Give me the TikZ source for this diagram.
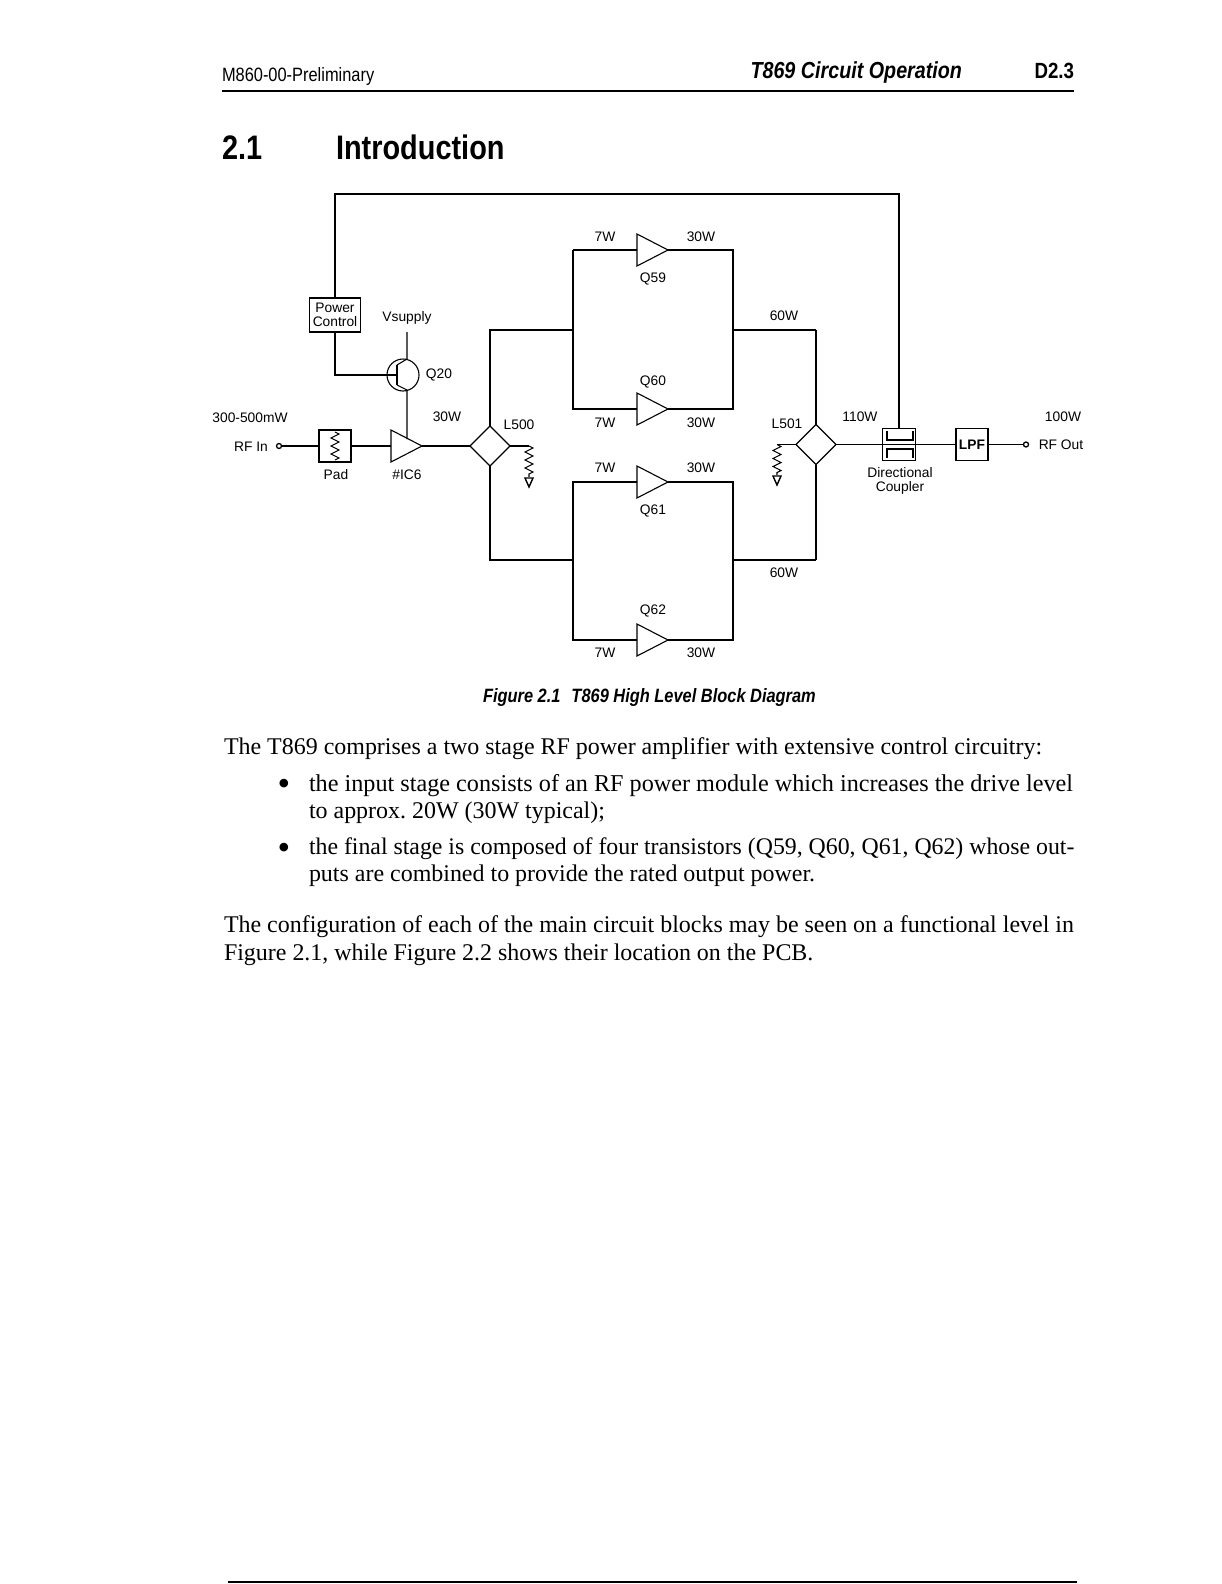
\documentclass[tikz,border=0pt]{standalone}
\usepackage{fontspec}
\usepackage{tikz}
\setmainfont{Liberation Serif}
\setsansfont{Liberation Sans}
\newfontfamily\headfont[FakeStretch=0.85]{Liberation Sans}
\usetikzlibrary{shapes.geometric,decorations.pathmorphing}
\frenchspacing

\begin{document}
\begin{tikzpicture}[x=1pt, y=-1pt, line width=1.1pt, line join=miter,
                    every node/.style={inner sep=0pt, outer sep=0pt},
                    lbl/.style={font=\sffamily\fontsize{13.8}{15}\selectfont, align=center},
                    body/.style={anchor=base west, font=\rmfamily\fontsize{23.95}{26}\selectfont},
                    bul/.style={anchor=base, font=\rmfamily\fontsize{36}{38}\selectfont},
                    box/.style={rectangle, draw, minimum width=32pt, minimum height=32pt},
                    amp/.style={isosceles triangle, isosceles triangle stretches, draw, anchor=apex,
                                minimum height=31pt, minimum width=32pt},
                    combiner/.style={diamond, draw, minimum width=40pt, minimum height=40pt},
                    port/.style={circle, draw, line width=1.3pt, fill=white, minimum size=5pt},
                    gnd/.style={isosceles triangle, isosceles triangle stretches, draw, line width=1.4pt,
                                shape border rotate=270, anchor=apex, minimum height=9pt, minimum width=8pt},
                    heavy/.style={line width=1.8pt},
                    fine/.style={line width=0.8pt},
                    zig/.style={decorate, decoration={zigzag, segment length=8pt, amplitude=4pt}}]
  \useasboundingbox (0,0) rectangle (1221,1584);

  % page header
  \node[anchor=base west, font=\headfont\fontsize{19.3}{21}\selectfont] (docref) at (222,82) {M860-00-Preliminary};
  \node[anchor=base east, font=\headfont\bfseries\itshape\fontsize{23.2}{25}\selectfont] (chapter) at (962,79) {T869 Circuit Operation};
  \node[anchor=base east, font=\headfont\bfseries\fontsize{22}{24}\selectfont] (pageno) at (1074,79) {D2.3};
  \coordinate (ruleL) at (222,91);
  \coordinate (ruleR) at (1074,91);
  \draw (ruleL) -- (ruleR);
  \node[anchor=base west, font=\headfont\bfseries\fontsize{34}{38}\selectfont] (secno) at (222,159) {2.1};
  \node[anchor=base west, font=\headfont\bfseries\fontsize{34}{38}\selectfont] (sectitle) at (336,159) {Introduction};

  % input stage
  \node[port] (rfin) at (279,446) {};
  \node[box] (pad) at (335,446) {};
  \node[amp] (ic6) at (422,446) {};
  \node[combiner] (l500) at (490,446) {};
  \node[box, minimum width=51pt, minimum height=34pt] (power) at (335,315) {};
  \node[lbl] (powertxt) at (335,315) {Power\\[-1.5pt]Control};
  \node[circle, draw, minimum size=32pt] (q20) at (403,375) {};
  \coordinate (q20b) at (397,375);
  \coordinate (q20up) at (397,365);
  \coordinate (q20dn) at (397,385);
  \coordinate (q20c) at (407,359);
  \coordinate (q20e) at (407,390);
  \coordinate (vcc) at (407,332);
  \coordinate (ic6top) at (407,439);
  \coordinate (padtop) at (335,432);
  \coordinate (padbot) at (335,460);

  % output stages
  \node[amp] (q59) at (668,250) {};
  \node[amp] (q60) at (668,409) {};
  \node[amp] (q61) at (668,482) {};
  \node[amp] (q62) at (668,640) {};
  \node[combiner] (l501) at (816,444.5) {};
  \coordinate (inA) at (573,330);
  \coordinate (inB) at (573,560);
  \coordinate (outA) at (733,330);
  \coordinate (outB) at (733,560);

  % coupler and filter
  \node[box, minimum width=33pt] (coupler) at (899,444.5) {};
  \node[box] (lpf) at (972,444.5) {\sffamily\bfseries\fontsize{13.8}{15}\selectfont LPF};
  \node[port] (rfout) at (1026,444.5) {};
  \coordinate (fbL) at (335,194);
  \coordinate (fbR) at (899,194);

  % dumps on the combiners
  \coordinate (dumpA) at (529,446);
  \coordinate (dumpAe) at (529,477);
  \coordinate (dumpB) at (777,444.5);
  \coordinate (dumpBe) at (777,475);
  \node[gnd] (gndA) at (529,487) {};
  \node[gnd] (gndB) at (777,485) {};

  \draw (rfin) -- (pad);
  \draw (pad) -- (ic6.west);
  \draw[heavy] (ic6.east) -- (l500);
  \draw[zig] (padtop) -- (padbot);
  \draw (power.north) -- (fbL) -- (fbR) -- (coupler.north -| fbR);
  \draw (power.south) |- (q20b);
  \draw (vcc) -- (q20c) -- (q20up);
  \draw[heavy] (q20up) -- (q20dn);
  \draw (q20dn) -- (q20e) -- (ic6top);

  \draw (l500.north) |- (inA);
  \draw (l500.south) |- (inB);
  \draw (l500.east) -- (dumpA);
  \draw[zig] (dumpA) -- (dumpAe);
  \draw (l501.west) -- (dumpB);
  \draw[zig] (dumpB) -- (dumpBe);

  \draw[heavy] (q59.west) -- (q59.west -| inA);
  \draw (q59.west -| inA) -- (inA) |- (q60.west);
  \draw (q61.west) -| (inB) |- (q62.west);
  \draw (q59.east) -| (outA) |- (q60.east);
  \draw (q61.east) -| (outB) |- (q62.east);
  \draw (outA) -- (outA -| l501);
  \draw (outB) -- (outB -| l501);
  \draw[heavy] (l501.north) -- (outA -| l501);
  \draw[heavy] (l501.south) -- (outB -| l501);

  \draw (l501.east) -- (coupler.west);
  \draw[fine] (coupler.east) -- (lpf.west);
  \draw[fine] (lpf.east) -- (rfout);
  \draw (coupler.west) -- (coupler.east);
  \draw[line width=1.2pt] (887,431) |- (913,440) -- (913,431);
  \draw[line width=1.2pt] (887,458) |- (913,449) -- (913,458);

  % labels
  \node[lbl] (lblrange) at (250,418) {300-500mW};
  \node[lbl] (lblrfin) at (251,447) {RF In};
  \node[lbl] (lblpad) at (336,475) {Pad};
  \node[lbl] (lblic6) at (407,475) {\#IC6};
  \node[lbl] (lblvcc) at (407,318) {Vsupply};
  \node[lbl] (lblq20) at (439,375) {Q20};
  \node[lbl] (lbldrive) at (447,417) {30W};
  \node[lbl] (lbll500) at (519,425) {L500};
  \node[lbl] (lbla1) at (605,237) {7W};
  \node[lbl] (lbla2) at (701,237) {30W};
  \node[lbl] (lblq59) at (653,279) {Q59};
  \node[lbl] (lblq60) at (653,382) {Q60};
  \node[lbl] (lbla3) at (605,423) {7W};
  \node[lbl] (lbla4) at (701,423) {30W};
  \node[lbl] (lblb1) at (605,468) {7W};
  \node[lbl] (lblb2) at (701,468) {30W};
  \node[lbl] (lblq61) at (653,511) {Q61};
  \node[lbl] (lblq62) at (653,611) {Q62};
  \node[lbl] (lblb3) at (605,653) {7W};
  \node[lbl] (lblb4) at (701,653) {30W};
  \node[lbl] (lblupper) at (784,316) {60W};
  \node[lbl] (lbllower) at (784,573) {60W};
  \node[lbl] (lbll501) at (787,424) {L501};
  \node[lbl] (lblsum) at (860,417) {110W};
  \node[lbl] (lblcoupler) at (900,481) {Directional\\[-1pt]Coupler};
  \node[lbl] (lblout) at (1063,417) {100W};
  \node[lbl] (lblrfout) at (1061,445) {RF Out};

  % caption and text
  \node[anchor=base west, font=\headfont\bfseries\itshape\fontsize{19.3}{21}\selectfont] (caption) at (483,702)
    {Figure 2.1\hspace{11pt}T869 High Level Block Diagram};
  \node[body] (para1) at (224,754) {The T869 comprises a two stage RF power amplifier with extensive control circuitry:};
  \node[bul] (bul1) at (284,795) {•};
  \node[body, font=\rmfamily\fontsize{24.2}{26}\selectfont] (item1a) at (309,791) {the input stage consists of an RF power module which increases the drive level};
  \node[body] (item1b) at (309,818) {to approx. 20W (30W typical);};
  \node[bul] (bul2) at (284,859) {•};
  \node[body, font=\rmfamily\fontsize{23.8}{26}\selectfont] (item2a) at (309,854) {the final stage is composed of four transistors (Q59, Q60, Q61, Q62) whose out-};
  \node[body] (item2b) at (309,881) {puts are combined to provide the rated output power.};
  \node[body] (para2a) at (224,932) {The configuration of each of the main circuit blocks may be seen on a functional level in};
  \node[body] (para2b) at (224,960) {Figure 2.1, while Figure 2.2 shows their location on the PCB.};

  % foot rule
  \coordinate (footL) at (228,1582);
  \coordinate (footR) at (1077,1582);
  \draw (footL) -- (footR);
\end{tikzpicture}
\end{document}
